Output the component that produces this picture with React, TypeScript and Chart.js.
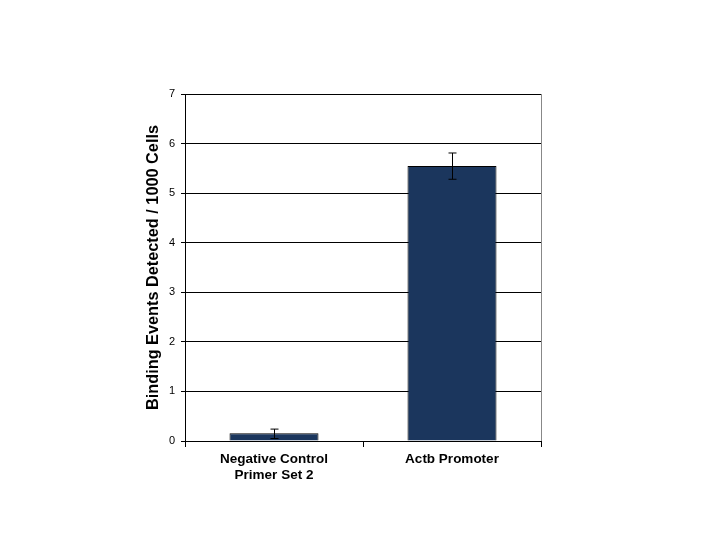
import React, { useEffect, useRef } from 'react';
import { Chart, registerables } from 'chart.js';

Chart.register(...registerables);

const categories: (string | string[])[] = [['Negative Control', 'Primer Set 2'], 'Actb Promoter'];
const values = [0.155, 5.55];
const errLow = [0.05, 5.28];
const errHigh = [0.24, 5.81];

// draws the error whiskers and the grey right frame line
const errorBarPlugin = {
    id: 'errorBars',
    afterDatasetsDraw(chart: any) {
        const { ctx, chartArea, scales } = chart;
        const meta = chart.getDatasetMeta(0);
        ctx.save();
        ctx.strokeStyle = '#000';
        ctx.lineWidth = 1;
        meta.data.forEach((bar: any, i: number) => {
            const x = Math.round(bar.x) + 0.5;
            const yLo = scales.y.getPixelForValue(errLow[i]);
            const yHi = scales.y.getPixelForValue(errHigh[i]);
            ctx.beginPath();
            ctx.moveTo(x, yLo);
            ctx.lineTo(x, yHi);
            ctx.moveTo(x - 4, yHi);
            ctx.lineTo(x + 4, yHi);
            ctx.moveTo(x - 4, yLo);
            ctx.lineTo(x + 4, yLo);
            ctx.stroke();
        });
        ctx.strokeStyle = '#888';
        ctx.beginPath();
        ctx.moveTo(chartArea.right + 0.5, chartArea.top);
        ctx.lineTo(chartArea.right + 0.5, chartArea.bottom);
        ctx.stroke();
        ctx.restore();
    }
};

export default function App() {
    const canvasRef = useRef<HTMLCanvasElement>(null);

    useEffect(() => {
        document.body.style.margin = '0';
        if (!canvasRef.current) return;
        const chart = new Chart(canvasRef.current, {
            type: 'bar',
            data: {
                labels: categories,
                datasets: [{
                    data: values,
                    backgroundColor: '#1b365d',
                    borderColor: '#000',
                    borderWidth: 1,
                    barPercentage: 0.5,
                    categoryPercentage: 1,
                }]
            },
            options: {
                responsive: false,
                animation: false,
                layout: { padding: { left: 140, top: 94, right: 179, bottom: 0 } },
                plugins: {
                    legend: { display: false },
                    tooltip: { enabled: false },
                },
                scales: {
                    x: {
                        afterFit: (s: any) => { s.height = 99; },
                        grid: { offset: true, drawOnChartArea: false, color: '#000', tickLength: 6 },
                        border: { color: '#000' },
                        ticks: {
                            color: '#000',
                            maxRotation: 0,
                            padding: 4,
                            font: { family: 'Liberation Sans, Arial', size: 13.5, weight: 'bold', lineHeight: 1.2 },
                        },
                    },
                    y: {
                        min: 0,
                        max: 7,
                        afterFit: (s: any) => { s.width = 45; },
                        grid: { color: '#000', tickLength: 4 },
                        border: { color: '#000' },
                        ticks: {
                            stepSize: 1,
                            color: '#000',
                            padding: 6,
                            font: { family: 'Liberation Sans, Arial', size: 11 },
                        },
                        title: {
                            display: true,
                            text: 'Binding Events Detected / 1000 Cells',
                            color: '#000',
                            padding: 4,
                            font: { family: 'Liberation Sans, Arial', size: 16.3, weight: 'bold' },
                        },
                    },
                },
            },
            plugins: [errorBarPlugin],
        });
        return () => chart.destroy();
    }, []);

    return (
        <div style={{ width: 720, height: 540, background: '#fff' }}>
            <canvas ref={canvasRef} width={720} height={540} />
        </div>
    );
}
